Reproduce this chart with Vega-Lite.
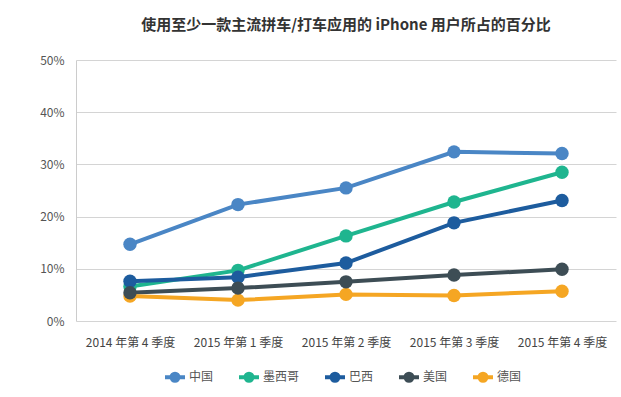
{
  "$schema": "https://vega.github.io/schema/vega-lite/v6.json",
  "width": 540,
  "height": 261,
  "autosize": {"type": "none"},
  "padding": {"left": 76, "top": 60, "right": 5, "bottom": 76},
  "background": "white",
  "title": {
    "text": "使用至少一款主流拼车/打车应用的 iPhone 用户所占的百分比",
    "font": "Noto Sans CJK SC",
    "fontSize": 15,
    "fontWeight": "bold",
    "color": "#333333",
    "anchor": "middle",
    "offset": 21
  },
  "data": {
    "values": [
      {"q": "2014 年第 4 季度", "country": "中国", "v": 0.147},
      {"q": "2015 年第 1 季度", "country": "中国", "v": 0.223},
      {"q": "2015 年第 2 季度", "country": "中国", "v": 0.255},
      {"q": "2015 年第 3 季度", "country": "中国", "v": 0.324},
      {"q": "2015 年第 4 季度", "country": "中国", "v": 0.321},
      {"q": "2014 年第 4 季度", "country": "墨西哥", "v": 0.066},
      {"q": "2015 年第 1 季度", "country": "墨西哥", "v": 0.097},
      {"q": "2015 年第 2 季度", "country": "墨西哥", "v": 0.163},
      {"q": "2015 年第 3 季度", "country": "墨西哥", "v": 0.228},
      {"q": "2015 年第 4 季度", "country": "墨西哥", "v": 0.285},
      {"q": "2014 年第 4 季度", "country": "巴西", "v": 0.076},
      {"q": "2015 年第 1 季度", "country": "巴西", "v": 0.084},
      {"q": "2015 年第 2 季度", "country": "巴西", "v": 0.111},
      {"q": "2015 年第 3 季度", "country": "巴西", "v": 0.188},
      {"q": "2015 年第 4 季度", "country": "巴西", "v": 0.231},
      {"q": "2014 年第 4 季度", "country": "美国", "v": 0.054},
      {"q": "2015 年第 1 季度", "country": "美国", "v": 0.063},
      {"q": "2015 年第 2 季度", "country": "美国", "v": 0.075},
      {"q": "2015 年第 3 季度", "country": "美国", "v": 0.088},
      {"q": "2015 年第 4 季度", "country": "美国", "v": 0.099},
      {"q": "2014 年第 4 季度", "country": "德国", "v": 0.048},
      {"q": "2015 年第 1 季度", "country": "德国", "v": 0.040},
      {"q": "2015 年第 2 季度", "country": "德国", "v": 0.051},
      {"q": "2015 年第 3 季度", "country": "德国", "v": 0.049},
      {"q": "2015 年第 4 季度", "country": "德国", "v": 0.057}
    ]
  },
  "encoding": {
    "x": {
      "field": "q", "type": "nominal", "sort": null,
      "scale": {"paddingInner": 0, "paddingOuter": 0.5},
      "axis": {
        "title": null, "labelAngle": 0, "ticks": false, "domain": false,
        "labelFont": "Noto Sans CJK SC", "labelFontSize": 12, "labelColor": "#444444",
        "labelPadding": 16
      }
    },
    "y": {
      "field": "v", "type": "quantitative",
      "scale": {"domain": [0, 0.5]},
      "axis": {
        "title": null, "format": ".0%", "values": [0, 0.1, 0.2, 0.3, 0.4, 0.5],
        "labelOverlap": false, "labelBound": false, "labelFlush": false,
        "ticks": false, "domain": true, "domainColor": "#cccccc",
        "labelFont": "Noto Sans CJK SC", "labelFontSize": 12, "labelColor": "#555555",
        "labelPadding": 12, "gridColor": "#d4d4d4"
      }
    },
    "color": {
      "field": "country", "type": "nominal",
      "scale": {
        "domain": ["中国", "墨西哥", "巴西", "美国", "德国"],
        "range": ["#4a86c5", "#1fb58f", "#1d5c9e", "#3d4d55", "#f5a623"]
      },
      "legend": {
        "title": null,
        "orient": "none",
        "direction": "horizontal",
        "legendX": 87,
        "legendY": 305,
        "symbolType": "M -1 0 L 1 0 M 0.35 0 A 0.35 0.35 0 1 1 -0.35 0 A 0.35 0.35 0 1 1 0.35 0",
        "symbolSize": 400,
        "symbolStrokeWidth": 4,
        "labelFont": "Noto Sans CJK SC",
        "labelFontSize": 12,
        "labelColor": "#555555",
        "columnPadding": 17,
        "labelOffset": 2
      }
    },
    "order": {"field": "country", "sort": "ascending"}
  },
  "layer": [
    {"mark": {"type": "line", "strokeWidth": 4}, "encoding": {"detail": {"field": "country"}}},
    {"mark": {"type": "point", "filled": true, "size": 180, "opacity": 1}}
  ],
  "config": {"view": {"stroke": null}}
}
